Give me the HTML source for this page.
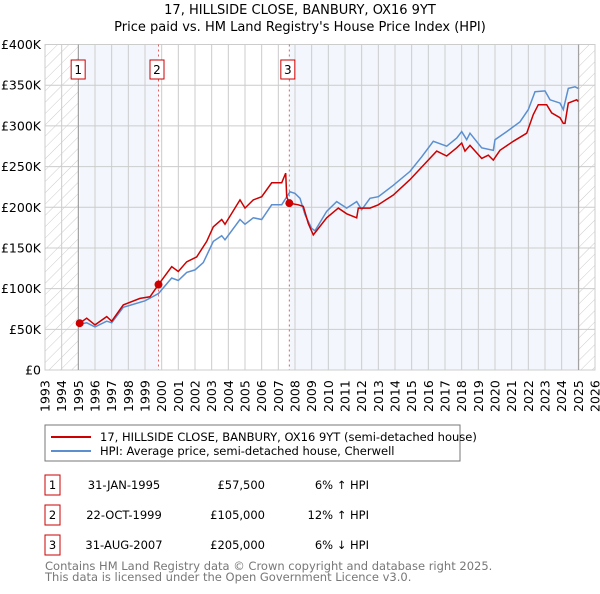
<!DOCTYPE html>
<html><head><meta charset="utf-8"><style>
body{margin:0;background:#fff;width:600px;height:590px;overflow:hidden;font-family:"DejaVu Sans","Liberation Sans",sans-serif}
svg text{font-family:"DejaVu Sans","Liberation Sans",sans-serif}
</style></head><body>
<svg id="c" width="600" height="590" xmlns="http://www.w3.org/2000/svg">
<defs><pattern id="hatch" width="8" height="8" patternUnits="userSpaceOnUse" patternTransform="rotate(45)"><line x1="0" y1="0" x2="0" y2="8" stroke="#ccc" stroke-width="1"/></pattern></defs>
<text x="300" y="14" text-anchor="middle" font-size="13" fill="#000">17, HILLSIDE CLOSE, BANBURY, OX16 9YT</text>
<text x="300" y="31" text-anchor="middle" font-size="13" fill="#000">Price paid vs. HM Land Registry's House Price Index (HPI)</text>
<g id="plot"></g>
<rect x="45" y="425" width="415" height="36" fill="#fff" stroke="#777"/>
<line x1="51" y1="437" x2="91" y2="437" stroke="#cc0000" stroke-width="2"/>
<text x="100" y="441" font-size="11.5">17, HILLSIDE CLOSE, BANBURY, OX16 9YT (semi-detached house)</text>
<line x1="51" y1="451" x2="91" y2="451" stroke="#5b8fd0" stroke-width="2"/>
<text x="100" y="455" font-size="11.5">HPI: Average price, semi-detached house, Cherwell</text>
<g font-size="11.5">
<rect x="45" y="475" width="15" height="20" fill="#fff" stroke="#cc0000"/><text x="52.5" y="489" text-anchor="middle">1</text>
<text x="124" y="489" text-anchor="middle">31-JAN-1995</text><text x="265" y="489" text-anchor="end">£57,500</text><text x="369" y="489" text-anchor="end">6% ↑ HPI</text>
<rect x="45" y="505" width="15" height="20" fill="#fff" stroke="#cc0000"/><text x="52.5" y="519" text-anchor="middle">2</text>
<text x="124" y="519" text-anchor="middle">22-OCT-1999</text><text x="265" y="519" text-anchor="end">£105,000</text><text x="369" y="519" text-anchor="end">12% ↑ HPI</text>
<rect x="45" y="535" width="15" height="20" fill="#fff" stroke="#cc0000"/><text x="52.5" y="549" text-anchor="middle">3</text>
<text x="124" y="549" text-anchor="middle">31-AUG-2007</text><text x="265" y="549" text-anchor="end">£205,000</text><text x="369" y="549" text-anchor="end">6% ↓ HPI</text>
</g>
<text x="45" y="570" font-size="11.5" fill="#777">Contains HM Land Registry data © Crown copyright and database right 2025.</text>
<text x="45" y="581" font-size="11.5" fill="#777">This data is licensed under the Open Government Licence v3.0.</text>
</svg>
<script>
const yTicks=[0,50000,100000,150000,200000,250000,300000,350000,400000];
const yTickLabels=["£0","£50K","£100K","£150K","£200K","£250K","£300K","£350K","£400K"];
const years=[1993,1994,1995,1996,1997,1998,1999,2000,2001,2002,2003,2004,2005,2006,2007,2008,2009,2010,2011,2012,2013,2014,2015,2016,2017,2018,2019,2020,2021,2022,2023,2024,2025,2026];
const saleDates=[1995.08,1999.81,2007.66];
const saleValues=[57500,105000,205000];
const saleLabels=["1","2","3"];
const propDates=[1995.08,1995.5,1996.0,1996.7,1997.0,1997.7,1998.7,1999.3,1999.81,2000.6,2001.0,2001.5,2002.1,2002.7,2003.1,2003.6,2003.8,2004.7,2005.0,2005.5,2006.0,2006.6,2007.2,2007.44,2007.5,2007.66,2008.2,2008.5,2008.8,2009.1,2009.9,2010.6,2011.1,2011.7,2011.8,2012.5,2013.0,2013.9,2014.9,2015.9,2016.5,2017.1,2017.7,2018.0,2018.2,2018.5,2019.2,2019.6,2019.9,2020.3,2021.1,2021.9,2022.3,2022.6,2023.1,2023.4,2023.9,2024.1,2024.2,2024.4,2024.9,2025.0];
const propValues=[57500,63600,55400,65600,60000,80000,88000,90000,105000,127000,121000,133000,139000,158000,176000,185000,179000,209000,199000,209000,213000,230000,230000,242000,213000,205000,203000,201000,180000,166000,187000,199000,192000,187000,199000,199000,203000,215000,234000,256000,269000,263000,273000,279000,269000,276000,260000,264000,258000,270000,281000,291000,314000,326000,326000,316000,310000,303000,303000,328000,332000,330000];
const hpiDates=[1995.0,1995.5,1996.0,1996.7,1997.0,1997.7,1999.0,1999.81,2000.6,2001.0,2001.5,2002.0,2002.5,2003.1,2003.6,2003.8,2004.7,2005.0,2005.5,2006.0,2006.6,2007.2,2007.7,2008.0,2008.3,2008.6,2009.0,2009.2,2009.9,2010.5,2011.1,2011.7,2012.0,2012.5,2013.0,2013.9,2014.9,2015.6,2016.3,2017.1,2017.7,2018.0,2018.3,2018.5,2019.2,2019.9,2020.0,2020.7,2021.5,2022.0,2022.4,2023.0,2023.3,2023.9,2024.1,2024.4,2024.8,2025.0];
const hpiValues=[56000,58000,53000,60000,58000,77000,85000,94000,113000,110000,120000,123000,132000,158000,165000,160000,185000,179000,187000,185000,203000,203000,219000,217000,211000,191000,174000,171000,195000,207000,199000,207000,197000,211000,213000,227000,244000,262000,281000,275000,285000,293000,283000,291000,273000,270000,283000,293000,305000,320000,342000,343000,332000,328000,320000,346000,348000,346000];
const X0=45,X1=595,Y0=370,Y1=44.5;
const xs=y=>X0+(y-1993)/33*(X1-X0);
const ys=v=>Y0-v/400000*(Y0-Y1);
const NS="http://www.w3.org/2000/svg";
const g=document.getElementById('plot');
function mk(t,a){const e=document.createElementNS(NS,t);for(const k in a)e.setAttribute(k,a[k]);g.appendChild(e);return e;}
let r=mk('rect',{x:X0,y:Y1,width:X1-X0,height:Y0-Y1,fill:'#fff'});


// shaded regions
let s1=mk('rect',{x:xs(saleDates[0]),y:Y1,width:xs(saleDates[1])-xs(saleDates[0]),height:Y0-Y1,fill:'#eef3fc',opacity:0.7});


let s3=mk('rect',{x:xs(saleDates[2]),y:Y1,width:xs(2025.02)-xs(saleDates[2]),height:Y0-Y1,fill:'#eef3fc',opacity:0.7});


let h1=mk('rect',{x:X0,y:Y1,width:xs(1995.0)-X0,height:Y0-Y1,fill:'url(#hatch)'});


let h2=mk('rect',{x:xs(2025.02),y:Y1,width:X1-xs(2025.02),height:Y0-Y1,fill:'url(#hatch)'});


// grid
years.forEach(y=>{const l=mk('line',{x1:xs(y),x2:xs(y),y1:Y1,y2:Y0,stroke:'#ccc','stroke-width':1});


const t=mk('text',{x:0,y:0,transform:`translate(${xs(y)+4.5},${Y0+42}) rotate(-90)`,'font-size':12.5});t.textContent=y;

});
yTicks.forEach((v,i)=>{const l=mk('line',{x1:X0,x2:X1,y1:ys(v),y2:ys(v),stroke:'#ccc','stroke-width':1});


const t=mk('text',{x:41,y:ys(v)+4.5,'text-anchor':'end','font-size':12.5});t.textContent=yTickLabels[i];

});
let fr=mk('rect',{x:X0,y:Y1,width:X1-X0,height:Y0-Y1,fill:'none',stroke:'#ccc'});


let e1=mk('line',{x1:xs(1995.0),x2:xs(1995.0),y1:Y1,y2:Y0,stroke:'#999'});


let e2=mk('line',{x1:xs(2025.02),x2:xs(2025.02),y1:Y1,y2:Y0,stroke:'#999'});


saleDates.forEach((d,i)=>{if(i>0){const l=mk('line',{x1:xs(d),x2:xs(d),y1:Y1,y2:Y0,stroke:'#e06060','stroke-dasharray':'2,3'});

}});
const pts=(a,b)=>a.map((d,i)=>xs(d).toFixed(1)+','+ys(b[i]).toFixed(1)).join(' ');
let hp=mk('polyline',{points:pts(hpiDates,hpiValues),fill:'none',stroke:'#5b8fd0','stroke-width':1.5});


let pp=mk('polyline',{points:pts(propDates,propValues),fill:'none',stroke:'#cc0000','stroke-width':1.5});


saleDates.forEach((d,i)=>{const c=mk('circle',{cx:xs(d),cy:ys(saleValues[i]),r:4,fill:'#cc0000'});


const bx=mk('rect',{x:xs(d)-8.5,y:60,width:14,height:19,fill:'#fff',stroke:'#cc0000'});


const t=mk('text',{x:xs(d)-1.5,y:74,'text-anchor':'middle','font-size':12});t.textContent=saleLabels[i];

});
</script>
</body></html>
